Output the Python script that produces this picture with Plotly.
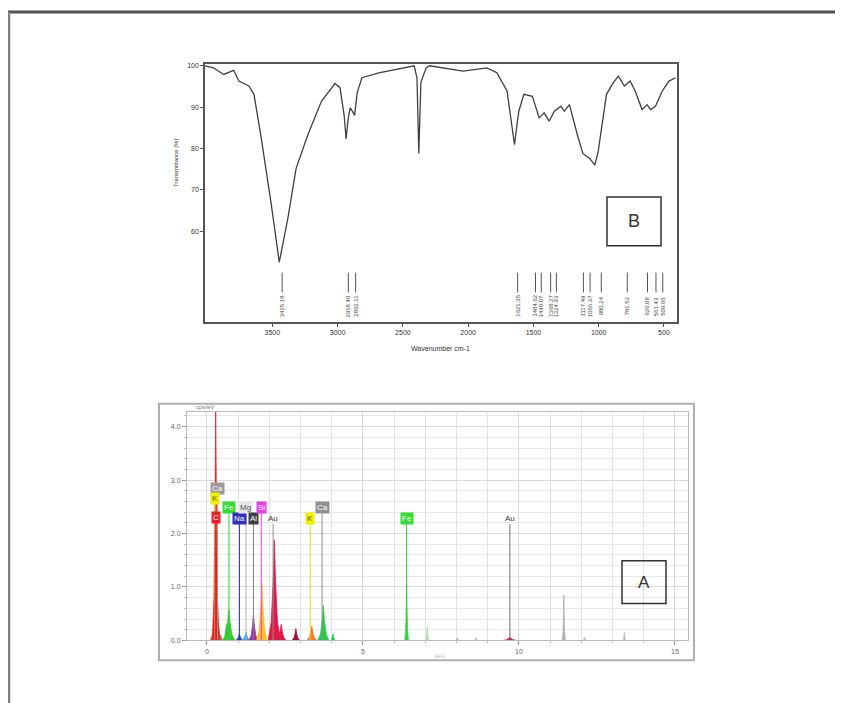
import plotly.graph_objects as go

W, H = 843, 703
OFF = 8  # default page body margin

# ---------------- FTIR (panel B) data ----------------
ftir_wavenumber = [4016, 3951, 3873, 3796, 3757, 3680, 3641, 3589, 3511, 3447, 3382, 3318, 3228,
                   3124, 3020, 2982, 2950, 2935, 2920, 2904, 2885, 2870, 2850, 2814, 2684, 2555,
                   2413, 2392, 2378, 2362, 2322, 2296, 2116, 2038, 1857, 1780, 1702, 1665, 1645,
                   1625, 1612, 1573, 1508, 1456, 1418, 1379, 1340, 1289, 1263, 1224, 1198, 1160,
                   1121, 1069, 1030, 1004, 978, 940, 888, 849, 803, 759, 720, 668, 629, 603, 565,
                   513, 462, 410]
ftir_transmittance = [100.0, 99.5, 97.9, 98.9, 96.3, 95.1, 93.1, 83.3, 67.1, 52.5, 63.0, 75.2, 83.3,
                      91.4, 95.7, 94.7, 88.0, 82.3, 87.0, 89.8, 88.9, 88.0, 93.5, 97.1, 98.3, 99.1,
                      100.0, 97.0, 78.8, 96.0, 99.5, 100.0, 99.1, 98.7, 99.5, 98.3, 93.9, 86.0, 80.9,
                      86.0, 89.0, 93.1, 92.6, 87.4, 88.6, 86.6, 89.0, 90.2, 89.0, 90.6, 87.4, 82.9,
                      78.8, 77.6, 76.0, 79.2, 84.9, 93.1, 95.9, 97.5, 95.1, 96.3, 93.9, 89.4, 90.6,
                      89.4, 90.2, 93.9, 96.3, 97.1]
ftir_peak_wn = [3425, 2918, 2862, 1621, 1484, 1440, 1368, 1324, 1117, 1066, 980, 781, 626, 561, 509]
ftir_peak_labels = ["3425.18", "2918.40", "2862.11", "1621.35", "1484.62", "1440.07", "1368.27",
                    "1324.93", "1117.49", "1066.37", "980.24", "781.52", "626.08", "561.43", "509.66"]
ftir_xticks = [3500, 3000, 2500, 2000, 1500, 1000, 500]
ftir_yticks = [100, 90, 80, 70, 60]

# ---------------- EDS (panel A) data ----------------
eds_peak_keV = [0.30, 0.28, 0.62, 0.70, 1.04, 1.25, 1.49, 1.76, 2.16, 2.38, 2.85, 3.36, 3.73,
                4.04, 6.40, 7.06, 8.03, 8.62, 9.71, 11.44, 12.10, 13.38]
eds_peak_height = [0.75, 4.45, 0.30, 0.58, 0.12, 0.16, 0.48, 1.10, 1.88, 0.30, 0.22, 0.27, 0.65,
                   0.12, 1.05, 0.25, 0.05, 0.05, 0.06, 0.85, 0.06, 0.15]
eds_peak_halfwidth = [0.20, 0.11, 0.10, 0.20, 0.13, 0.13, 0.15, 0.17, 0.20, 0.16, 0.13, 0.17, 0.18,
                      0.08, 0.06, 0.06, 0.05, 0.05, 0.22, 0.05, 0.04, 0.05]
eds_peak_color = ["#c0604a", "#e8202a", "#33cc33", "#33cc33", "#2040d0", "#20a8d8", "#a030b0",
                  "#ffc020", "#e01848", "#e01848", "#a01030", "#f07840", "#22cc44", "#22cc44",
                  "#33dd33", "#a8e0a8", "#bbbbbb", "#bbbbbb", "#e01848", "#b0b0b0", "#bbbbbb",
                  "#bbbbbb"]

eds_elements = ["Ca", "K", "C", "Fe", "Na", "Mg", "Al", "Si", "Au", "K", "Ca", "Fe", "Au"]
eds_element_keV = [0.34, 0.26, 0.277, 0.705, 1.04, 1.25, 1.49, 1.74, 2.12, 3.31, 3.69, 6.40, 9.71]
eds_xticks = [0, 5, 10, 15]
eds_yticks = [0, 1, 2, 3, 4]

# styles for element labels
label_level = [2.84, 2.66, 2.30, 2.48, 2.28, 2.48, 2.28, 2.48, 2.28, 2.28, 2.48, 2.28, 2.28]
label_bg = ["#9a9a9a", "#f0f000", "#e8202a", "#33dd33", "#3030c0", "#e8e8e8", "#404040",
            "#e040e0", "rgba(0,0,0,0)", "#f0f000", "#909090", "#33dd33", "rgba(0,0,0,0)"]
label_fg = ["#ffffff", "#606000", "#ffffff", "#ffffff", "#ffffff", "#555555", "#ffffff",
            "#ffffff", "#333333", "#606000", "#ffffff", "#ffffff", "#333333"]
line_col = ["#9a9a9a", "#e0e000", "#e8202a", "#33cc33", "#3030c0", "#b0b0b0", "#808080",
            "#e040e0", "#909090", "#e0e000", "#909090", "#33cc33", "#707070"]


def px(x):
    return (x - OFF) / W


def py(y):
    return 1 - (y - OFF) / H


fig = go.Figure()

# FTIR curve
fig.add_trace(go.Scatter(x=ftir_wavenumber, y=ftir_transmittance, mode="lines",
                         line=dict(color="#404040", width=1.3), xaxis="x", yaxis="y",
                         hoverinfo="skip"))

# EDS peaks
for c, h, w, col in zip(eds_peak_keV, eds_peak_height, eds_peak_halfwidth, eds_peak_color):
    fig.add_trace(go.Scatter(x=[c - w, c - w * 0.5, c - w * 0.18, c, c + w * 0.18, c + w * 0.5, c + w],
                             y=[0, h * 0.18, h * 0.6, h, h * 0.6, h * 0.18, 0], mode="lines",
                             fill="tozeroy", fillcolor=col, line=dict(color=col, width=0.8),
                             xaxis="x2", yaxis="y2", hoverinfo="skip"))

shapes = []
annotations = []

# element marker lines and labels
for el, e, lvl, bg, fg, lc in zip(eds_elements, eds_element_keV, label_level, label_bg, label_fg, line_col):
    shapes.append(dict(type="line", xref="x2", yref="y2", x0=e, x1=e, y0=0, y1=lvl - 0.1,
                       line=dict(color=lc, width=1)))
    annotations.append(dict(x=e, y=lvl, xref="x2", yref="y2", text=el, showarrow=False,
                            bgcolor=bg, font=dict(size=8, color=fg, family="Liberation Sans"),
                            borderpad=1, xanchor="center", yanchor="middle"))

# FTIR peak markers
for wn, lab in zip(ftir_peak_wn, ftir_peak_labels):
    shapes.append(dict(type="line", xref="x", yref="y", x0=wn, x1=wn, y0=45.2, y1=50.0,
                       line=dict(color="#555555", width=1)))
    annotations.append(dict(x=wn, y=41.9, xref="x", yref="y", text=lab, textangle=-90,
                            showarrow=False, xanchor="center", yanchor="middle",
                            font=dict(size=6, color="#444444", family="Liberation Sans")))

# Outer page frame
shapes.append(dict(type="line", xref="paper", yref="paper", x0=px(7), x1=px(851), y0=py(11), y1=py(11),
                   line=dict(color="#555555", width=3)))
shapes.append(dict(type="line", xref="paper", yref="paper", x0=px(9), x1=px(9), y0=py(11), y1=py(711),
                   line=dict(color="#808080", width=2.5)))
# EDS outer box
shapes.append(dict(type="rect", xref="paper", yref="paper", x0=px(159), x1=px(694), y0=py(405), y1=py(663),
                   line=dict(color="#b0b0b0", width=2)))
# B box
shapes.append(dict(type="rect", xref="paper", yref="paper", x0=px(607), x1=px(661), y0=py(197), y1=py(246),
                   line=dict(color="#333333", width=1.5)))
annotations.append(dict(x=px(634), y=py(221.5), xref="paper", yref="paper", text="B", showarrow=False,
                        xanchor="center", yanchor="middle",
                        font=dict(size=18, color="#333333", family="Liberation Sans")))
# A box
shapes.append(dict(type="rect", xref="paper", yref="paper", x0=px(622), x1=px(666), y0=py(563), y1=py(606),
                   line=dict(color="#333333", width=1.5)))
annotations.append(dict(x=px(644), y=py(584.5), xref="paper", yref="paper", text="A", showarrow=False,
                        xanchor="center", yanchor="middle",
                        font=dict(size=17, color="#333333", family="Liberation Sans")))

# Axis titles
annotations.append(dict(x=px(440), y=py(349), xref="paper", yref="paper", text="Wavenumber cm-1",
                        showarrow=False, xanchor="center", yanchor="middle",
                        font=dict(size=7, color="#333333", family="Liberation Sans")))
annotations.append(dict(x=px(176), y=py(163), xref="paper", yref="paper", text="Transmittance [%]",
                        textangle=-90, showarrow=False, xanchor="center", yanchor="middle",
                        font=dict(size=6, color="#333333", family="Liberation Sans")))
annotations.append(dict(x=px(205), y=py(408), xref="paper", yref="paper", text="cps/eV",
                        showarrow=False, xanchor="center", yanchor="middle",
                        font=dict(size=6, color="#777777", family="Liberation Sans")))
annotations.append(dict(x=px(440), y=py(659), xref="paper", yref="paper", text="keV",
                        showarrow=False, xanchor="center", yanchor="middle",
                        font=dict(size=6, color="#bbbbbb", family="Liberation Sans")))

fig.update_layout(
    width=W, height=H, autosize=False,
    margin=dict(l=0, r=0, t=0, b=0),
    paper_bgcolor="white", plot_bgcolor="white",
    showlegend=False,
    xaxis=dict(domain=[px(205), px(677)], range=[4016, 400], anchor="y",
               tickvals=ftir_xticks, ticks="outside", ticklen=3, tickcolor="#555",
               showline=True, mirror=True, linecolor="#555555", linewidth=1.5,
               showgrid=False, zeroline=False,
               tickfont=dict(size=7, color="#333333", family="Liberation Sans")),
    yaxis=dict(domain=[py(323), py(63)], range=[38.0, 100.5], anchor="x",
               tickvals=ftir_yticks, ticks="outside", ticklen=3, tickcolor="#555",
               showline=True, mirror=True, linecolor="#555555", linewidth=1.5,
               showgrid=False, zeroline=False,
               tickfont=dict(size=7, color="#333333", family="Liberation Sans")),
    xaxis2=dict(domain=[px(187), px(688)], range=[-0.64, 15.42], anchor="y2",
                tickvals=eds_xticks, ticks="outside", ticklen=4, tickcolor="#999",
                showline=True, mirror=True, linecolor="#bbbbbb", linewidth=1,
                showgrid=True, gridcolor="#d8d8d8", gridwidth=1, zeroline=False,
                minor=dict(dtick=1, tick0=0, showgrid=True, gridcolor="#e2e2e2", ticks="outside",
                           ticklen=2, tickcolor="#bbb"),
                tickfont=dict(size=7, color="#666666", family="Liberation Sans")),
    yaxis2=dict(domain=[py(643), py(413)], range=[0, 4.28], anchor="x2",
                tickvals=eds_yticks, tickformat=".1f", ticks="outside", ticklen=4, tickcolor="#999",
                showline=True, mirror=True, linecolor="#bbbbbb", linewidth=1,
                showgrid=True, gridcolor="#d8d8d8", zeroline=False,
                minor=dict(dtick=0.2, tick0=0, showgrid=True, gridcolor="#e8e8e8", ticks="outside",
                           ticklen=2, tickcolor="#bbb"),
                tickfont=dict(size=7, color="#666666", family="Liberation Sans")),
    shapes=shapes,
    annotations=annotations,
)

fig.write_html("out.html")
